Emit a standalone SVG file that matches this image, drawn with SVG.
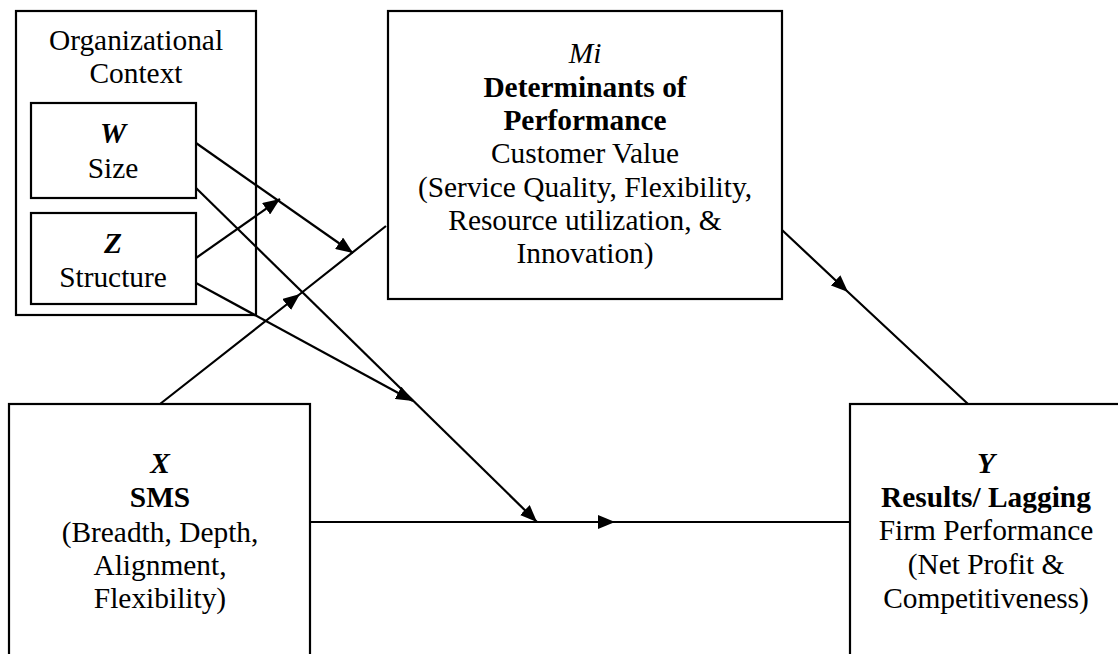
<svg xmlns="http://www.w3.org/2000/svg" width="1118" height="654" viewBox="0 0 1118 654">
  <style>
    .box { fill: #ffffff; stroke: #000000; stroke-width: 2.2; }
    .frame { fill: none; stroke: #000000; stroke-width: 2.2; }
    .txt { font-family: "Liberation Serif", "Times New Roman", serif; font-size: 29.4px; fill: #000000; text-anchor: middle; }
    .b { font-weight: bold; }
    .bi { font-weight: bold; font-style: italic; }
    .it { font-style: italic; }
    .wire { fill: none; stroke: #000000; stroke-width: 2.2; }
  </style>
  <defs>
    <marker id="head" viewBox="0 0 17 14" refX="17" refY="7" markerWidth="17" markerHeight="14" markerUnits="userSpaceOnUse" orient="auto">
      <path d="M0,0 L17,7 L0,14 Z" fill="#000000"/>
    </marker>
  </defs>

  <!-- Organizational context container with W and Z -->
  <g id="org-context">
    <rect class="frame" x="16" y="11" width="240" height="304"/>
    <text class="txt" x="136" y="50">Organizational</text>
    <text class="txt" x="136" y="83">Context</text>
  </g>
  <g id="node-w">
    <rect class="box" x="31" y="103" width="165" height="95"/>
    <text class="txt bi" x="113" y="143">W</text>
    <text class="txt" x="113" y="178">Size</text>
  </g>
  <g id="node-z">
    <rect class="box" x="31" y="213" width="165" height="91"/>
    <text class="txt bi" x="113" y="253">Z</text>
    <text class="txt" x="113" y="287">Structure</text>
  </g>

  <!-- Mediator -->
  <g id="node-mi">
    <rect class="box" x="388" y="11" width="394" height="288"/>
    <text class="txt it" x="585" y="63">Mi</text>
    <text class="txt b" x="585" y="97">Determinants of</text>
    <text class="txt b" x="585" y="130">Performance</text>
    <text class="txt" x="585" y="163">Customer Value</text>
    <text class="txt" x="585" y="197">(Service Quality, Flexibility,</text>
    <text class="txt" x="585" y="230">Resource utilization, &amp;</text>
    <text class="txt" x="585" y="263">Innovation)</text>
  </g>

  <!-- Independent variable -->
  <g id="node-x">
    <rect class="box" x="9" y="404" width="301" height="260"/>
    <text class="txt bi" x="160" y="473">X</text>
    <text class="txt b" x="160" y="507">SMS</text>
    <text class="txt" x="160" y="542">(Breadth, Depth,</text>
    <text class="txt" x="160" y="575">Alignment,</text>
    <text class="txt" x="160" y="608">Flexibility)</text>
  </g>

  <!-- Outcome -->
  <g id="node-y">
    <rect class="box" x="850" y="404" width="274" height="260"/>
    <text class="txt bi" x="986" y="473">Y</text>
    <text class="txt b" x="986" y="507">Results/ Lagging</text>
    <text class="txt" x="986" y="540">Firm Performance</text>
    <text class="txt" x="986" y="574">(Net Profit &amp;</text>
    <text class="txt" x="986" y="608">Competitiveness)</text>
  </g>

  <g id="connectors">
    <!-- X to Mi, arrowhead part-way -->
    <polyline class="wire" points="160,404 300,294 386,226" marker-mid="url(#head)"/>
    <!-- Mi to Y, arrowhead part-way -->
    <polyline class="wire" points="782,230 848,292 968,404" marker-mid="url(#head)"/>
    <!-- X to Y, arrowhead part-way -->
    <polyline class="wire" points="310,522 615,522 850,522" marker-mid="url(#head)"/>
    <!-- W moderates X to Mi -->
    <line class="wire" x1="196" y1="143" x2="353" y2="253" marker-end="url(#head)"/>
    <!-- W moderates X to Y -->
    <line class="wire" x1="196" y1="188" x2="537" y2="522" marker-end="url(#head)"/>
    <!-- Z moderates W path to Mi -->
    <line class="wire" x1="196" y1="258" x2="280" y2="199" marker-end="url(#head)"/>
    <!-- Z moderates W path to Y -->
    <line class="wire" x1="196" y1="283" x2="413" y2="401" marker-end="url(#head)"/>
  </g>
</svg>
